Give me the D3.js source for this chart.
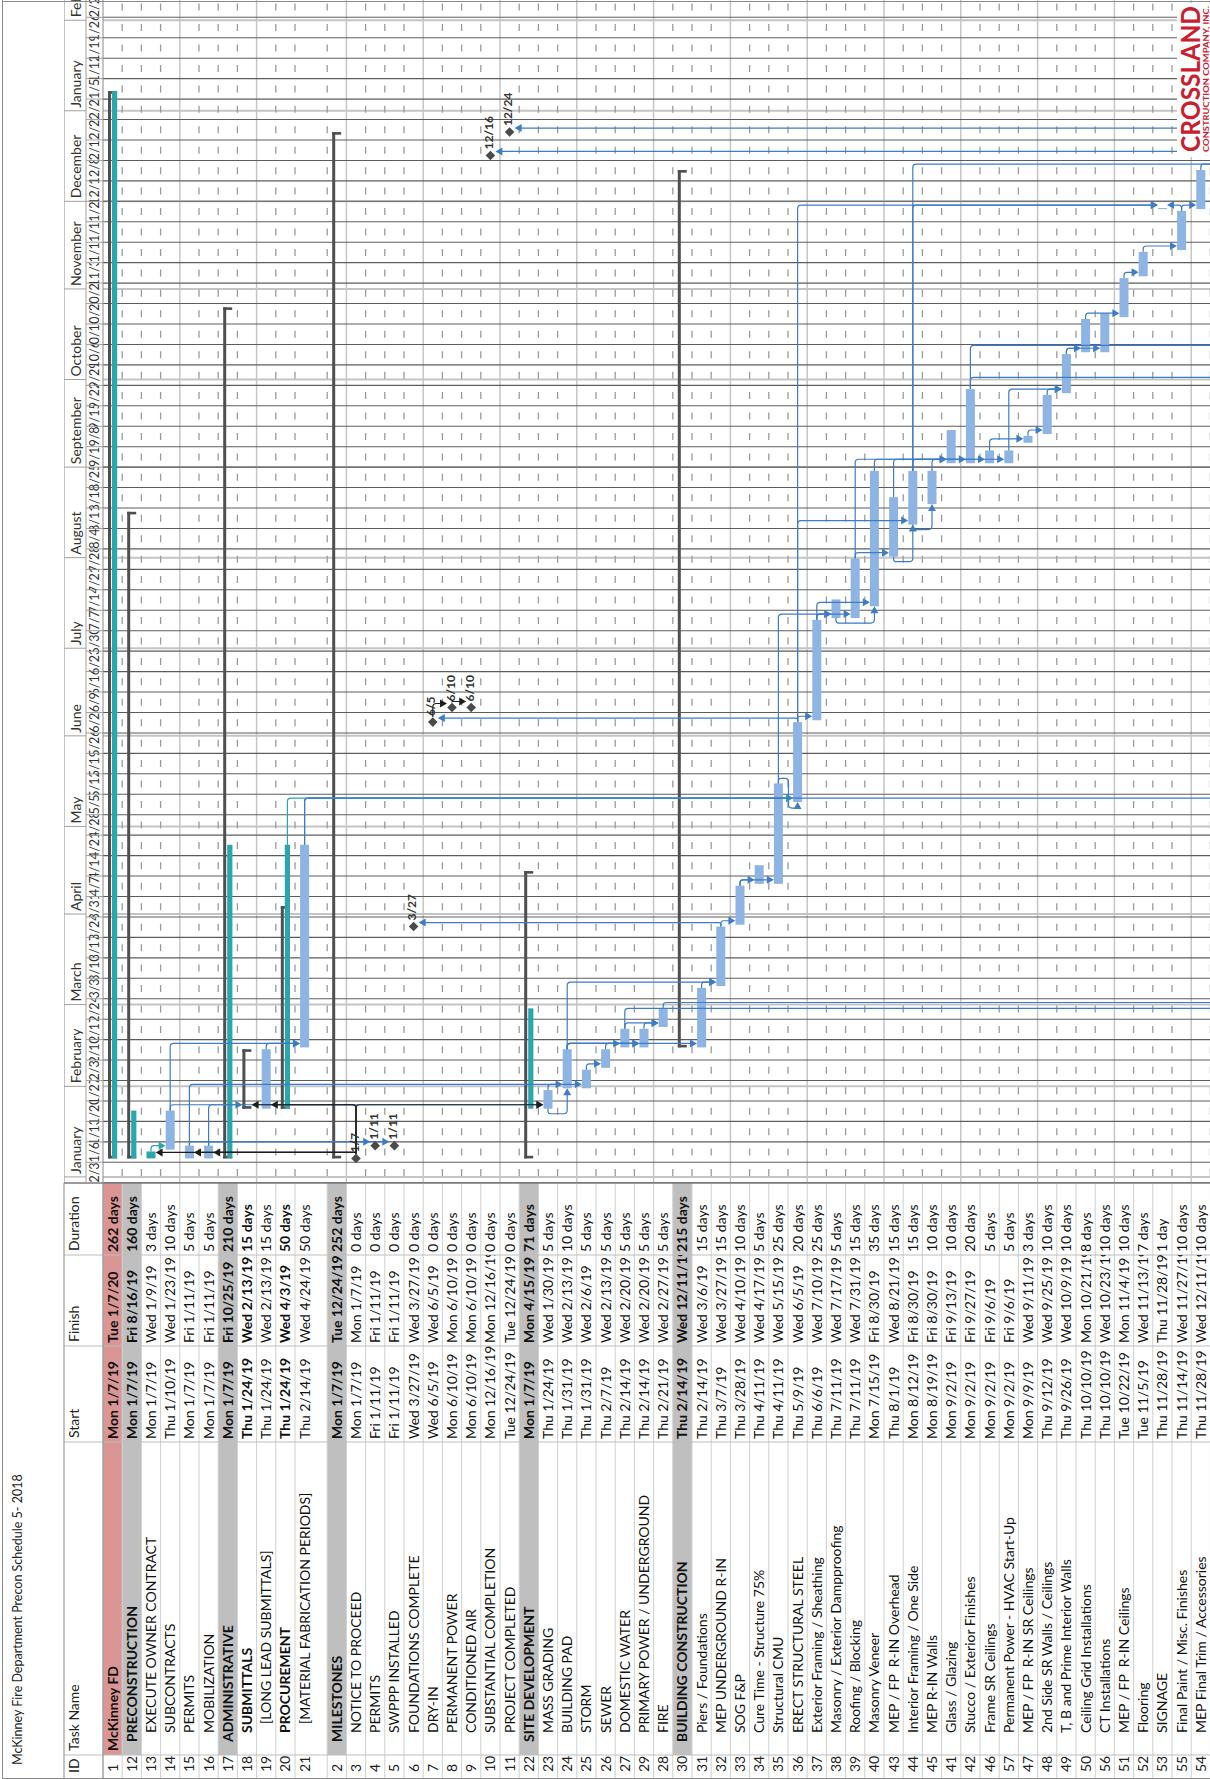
<!DOCTYPE html>
<html><head><meta charset="utf-8">
<script src="https://cdn.jsdelivr.net/npm/d3@7"></script>
<style>
html,body{margin:0;padding:0;background:#fff;}
svg{display:block;}
text{font-family:Lato,"Liberation Sans",sans-serif;}
</style></head><body>
<svg id="c" width="1210" height="1779"></svg>
<script>
// ---------------- DATA ----------------
const title = "McKinney Fire Department Precon Schedule 5- 2018";
const ids = [1,12,13,14,15,16,17,18,19,20,21,2,3,4,5,6,7,8,9,10,11,22,23,24,25,26,27,29,28,30,31,32,33,34,35,36,37,38,39,40,43,44,45,41,42,46,57,47,48,49,50,56,51,52,53,55,54];
const names = ["McKinney FD","PRECONSTRUCTION","EXECUTE OWNER CONTRACT","SUBCONTRACTS","PERMITS","MOBILIZATION","ADMINISTRATIVE","SUBMITTALS","[LONG LEAD SUBMITTALS]","PROCUREMENT","[MATERIAL FABRICATION PERIODS]","MILESTONES","NOTICE TO PROCEED","PERMITS","SWPPP INSTALLED","FOUNDATIONS COMPLETE","DRY-IN","PERMANENT POWER","CONDITIONED AIR","SUBSTANTIAL COMPLETION","PROJECT COMPLETED","SITE DEVELOPMENT","MASS GRADING","BUILDING PAD","STORM","SEWER","DOMESTIC WATER","PRIMARY POWER / UNDERGROUND","FIRE","BUILDING CONSTRUCTION","Piers / Foundations","MEP UNDERGROUND R-IN","SOG F&P","Cure Time - Structure 75%","Structural CMU","ERECT STRUCTURAL STEEL","Exterior Framing / Sheathing","Masonry / Exterior Dampproofing","Roofing / Blocking","Masonry Veneer","MEP / FP  R-IN Overhead","Interior Framing / One Side","MEP R-IN Walls","Glass / Glazing","Stucco / Exterior Finishes","Frame SR Ceilings","Permanent Power - HVAC Start-Up","MEP / FP  R-IN SR Ceilings","2nd Side SR Walls / Ceilings","T, B and Prime Interior Walls","Ceiling Grid Installations","CT Installations","MEP / FP  R-IN Ceilings","Flooring","SIGNAGE","Final Paint / Misc. Finishes","MEP Final Trim / Accessories"];
const starts = ["2019-01-07","2019-01-07","2019-01-07","2019-01-10","2019-01-07","2019-01-07","2019-01-07","2019-01-24","2019-01-24","2019-01-24","2019-02-14","2019-01-07","2019-01-07","2019-01-11","2019-01-11","2019-03-27","2019-06-05","2019-06-10","2019-06-10","2019-12-16","2019-12-24","2019-01-07","2019-01-24","2019-01-31","2019-01-31","2019-02-07","2019-02-14","2019-02-14","2019-02-21","2019-02-14","2019-02-14","2019-03-07","2019-03-28","2019-04-11","2019-04-11","2019-05-09","2019-06-06","2019-07-11","2019-07-11","2019-07-15","2019-08-01","2019-08-12","2019-08-19","2019-09-02","2019-09-02","2019-09-02","2019-09-02","2019-09-09","2019-09-12","2019-09-26","2019-10-10","2019-10-10","2019-10-22","2019-11-05","2019-11-28","2019-11-14","2019-11-28"];
const finishes = ["2020-01-07","2019-08-16","2019-01-09","2019-01-23","2019-01-11","2019-01-11","2019-10-25","2019-02-13","2019-02-13","2019-04-03","2019-04-24","2019-12-24","2019-01-07","2019-01-11","2019-01-11","2019-03-27","2019-06-05","2019-06-10","2019-06-10","2019-12-16","2019-12-24","2019-04-15","2019-01-30","2019-02-13","2019-02-06","2019-02-13","2019-02-20","2019-02-20","2019-02-27","2019-12-11","2019-03-06","2019-03-27","2019-04-10","2019-04-17","2019-05-15","2019-06-05","2019-07-10","2019-07-17","2019-07-31","2019-08-30","2019-08-21","2019-08-30","2019-08-30","2019-09-13","2019-09-27","2019-09-06","2019-09-06","2019-09-11","2019-09-25","2019-10-09","2019-10-21","2019-10-23","2019-11-04","2019-11-13","2019-11-28","2019-11-27","2019-12-11"];
const durations = ["262 days","160 days","3 days","10 days","5 days","5 days","210 days","15 days","15 days","50 days","50 days","252 days","0 days","0 days","0 days","0 days","0 days","0 days","0 days","0 days","0 days","71 days","5 days","10 days","5 days","5 days","5 days","5 days","5 days","215 days","15 days","15 days","10 days","5 days","25 days","20 days","25 days","5 days","15 days","35 days","15 days","15 days","10 days","10 days","20 days","5 days","5 days","3 days","10 days","10 days","8 days","10 days","10 days","7 days","1 day","10 days","10 days"];
// P=project, S=summary (grey band), s=sub-summary, T=task, D=done task, M=milestone
const kinds = ["P","S","D","T","T","T","S","s","T","s","T","S","M","M","M","M","M","M","M","M","M","S","T","T","T","T","T","T","T","S","T","T","T","T","T","T","T","T","T","T","T","T","T","T","T","T","T","T","T","T","T","T","T","T","T","T","T"];
const levels = [0,1,2,2,2,2,1,2,3,2,3,1,2,2,2,2,2,2,2,2,2,1,2,2,2,2,2,2,2,1,2,2,2,2,2,2,2,2,2,2,2,2,2,2,2,2,2,2,2,2,2,2,2,2,2,2,2];
// teal overlay bars on summary rows
const tealIds   = [1, 12, 17, 20, 22];
const tealFrom  = ["2019-01-07","2019-01-07","2019-01-07","2019-01-24","2019-01-24"];
const tealTo    = ["2020-01-07","2019-01-23","2019-04-24","2019-04-24","2019-02-27"];
// links (0 = task on a following page)
const linkPred = [13,3,3,3,15,16,14,14,15,16,3,3,3,19,23,23,25,24,24,26,27,29,24,24,31,32,32,33,33,21,20,35,36,36,7,8,36,36,35,37,37,37,38,39,43,44,39,40,43,44,45,46,57,47,48,49,49,50,51,52,55,55,44,44,54,42,42,27,28,0,0,21];
const linkSucc = [14,13,15,16,4,5,21,23,24,18,18,19,23,21,24,25,26,27,29,29,28,28,31,32,32,6,33,34,35,36,36,36,7,37,8,9,44,53,38,38,39,40,40,43,44,45,41,42,46,57,41,47,49,48,49,50,56,51,52,55,54,53,53,0,0,0,0,0,0,10,11,0];
const linkType = ["FS","FS","FS","FS","FS","FS","FS","FS","FS","FS","FS","FS","FS","FS","SS","FS","FS","FS","FS","FS","FS","FS","FS","FS","FS","FS","FS","FS","FS","FS","FS","FS","FS","FS","FS","FS","FS","FS","FS","FS","FS","FS","SS","FS","SS","SS","FS","FS","FS","FS","FS","FS","FS","FS","FS","FS","FS","FS","FS","FS","FS","FS","FS","FS","FS","FS","FS","FS","FS","FS","FS","FS"];
const linkColor = ["t","k","k","k","b","b","b","b","b","b","k","k","k","b","b","b","b","b","b","b","b","b","b","b","b","b","b","b","b","b","t","b","b","b","k","k","b","b","b","b","b","b","b","b","b","b","b","b","b","b","b","b","b","b","b","b","b","b","b","b","b","b","b","b","b","b","b","b","b","b","b","b"];
// dates for the off-page ends of links (succ start or pred finish)
const linkOffDate = {63:"2019-12-12",64:"2019-12-12",65:"2019-09-30",66:"2019-10-11",67:"2019-02-26",68:"2019-02-28",69:"2019-12-13",70:"2019-12-20",71:"2019-05-09"};
const monthNames = ["January","February","March","April","May","June","July","August","September","October","November","December"];

// ---------------- GEOMETRY ----------------
const W = 1210, H = 1779;
const utc = (s, h) => new Date(Date.UTC(+s.slice(0,4), +s.slice(5,7)-1, +s.slice(8,10), h||0));
const x = d3.scaleUtc().domain([utc("2019-01-06"), utc("2020-02-02")]).range([616.7, 1761.7]);
const U0 = x(utc("2018-12-30"));
const HDR_TOP = 64, TIER = 86, HDR_BOT = 103, PAGE_BOT = 1210;
const RH = 19.2, TALL = 10, TALL_EXTRA = 13;
const rowScale = d3.scaleLinear().domain([0, 1]).range([HDR_BOT, HDR_BOT + RH]);
const rowTop = i => rowScale(i) + (i > TALL ? TALL_EXTRA : 0);
const rowHt = i => RH + (i === TALL ? TALL_EXTRA : 0);
const rowC = i => rowTop(i) + RH / 2;
const cols = [0, 24, 337, 433, 524, 596];
const FS_T = 14;
const blue = "#8db4e2", linkBlue = "#3d7cc6", teal = "#2ba6ad", dark = "#4f4f4f";

const idx = id => ids.indexOf(id);
const isMs = i => kinds[i] === "M";
const msTime = i => ids[i] === 3 ? utc(starts[i], 8) : utc(finishes[i], 17);
const uStart = i => isMs(i) ? x(msTime(i)) : x(utc(starts[i], 8));
const uEnd = i => isMs(i) ? x(msTime(i)) : x(utc(finishes[i], 17));

const svg = d3.select("#c");
const defs = svg.append("defs");
const g = svg.append("g").attr("transform", `translate(0,${H}) rotate(-90)`);

function clip(id, u0, v0, u1, v1) {
  defs.append("clipPath").attr("id", id).attr("clipPathUnits", "userSpaceOnUse")
    .append("rect").attr("x", u0).attr("y", v0).attr("width", u1 - u0).attr("height", v1 - v0);
  return `url(#${id})`;
}

// ---------------- TABLE ----------------
const tbl = g.append("g");
ids.forEach((id, i) => {
  const k = kinds[i];
  if (k === "P" || k === "S") {
    tbl.append("rect").attr("x", cols[1]).attr("y", rowTop(i)).attr("width", cols[5] - cols[1]).attr("height", rowHt(i))
      .attr("fill", k === "P" ? "#da9694" : "#bfbfbf");
  }
});
for (let i = 0; i <= ids.length; i++) {
  const v = i < ids.length ? rowTop(i) : rowTop(ids.length - 1) + RH;
  tbl.append("line").attr("x1", 0).attr("x2", cols[5]).attr("y1", v).attr("y2", v)
    .attr("stroke", "#cfcfcf").attr("stroke-width", 1);
}
cols.forEach((c, j) => {
  tbl.append("line").attr("x1", c).attr("x2", c).attr("y1", HDR_TOP).attr("y2", PAGE_BOT)
    .attr("stroke", j === 5 ? "#7a7a7a" : "#bdbdbd").attr("stroke-width", j === 5 ? 1.3 : 1);
});
const headers = ["ID", "Task Name", "Start", "Finish", "Duration"];
headers.forEach((h, j) => {
  tbl.append("text").attr("x", cols[j] + (j === 0 ? 6 : 4)).attr("y", HDR_TOP + 15)
    .attr("font-size", FS_T).attr("fill", "#222").text(h);
});
const fmt = d3.utcFormat("%a %-m/%-d/%y");
const colClip = [1, 2, 3, 4].map(j => clip("cc" + j, cols[j], HDR_BOT, cols[j + 1], PAGE_BOT));
ids.forEach((id, i) => {
  const bold = (kinds[i] === "P" || kinds[i] === "S" || kinds[i] === "s");
  const base = (i === TALL ? rowTop(i) + 14.5 : rowC(i) + 5);
  const fw = bold ? 700 : 400;
  tbl.append("text").attr("x", 7).attr("y", base)
    .attr("font-size", FS_T).attr("fill", "#222").text(id);
  tbl.append("g").attr("clip-path", colClip[0]).append("text")
    .attr("x", cols[1] + 4 + levels[i] * 9).attr("y", base).attr("font-size", FS_T).attr("font-weight", fw)
    .attr("fill", "#111").attr("xml:space", "preserve").text(names[i]);
  tbl.append("g").attr("clip-path", colClip[1]).append("text")
    .attr("x", cols[2] + 3).attr("y", base).attr("font-size", FS_T).attr("font-weight", fw)
    .attr("fill", "#111").text(fmt(utc(starts[i])));
  tbl.append("g").attr("clip-path", colClip[2]).append("text")
    .attr("x", cols[3] + 3).attr("y", base).attr("font-size", FS_T).attr("font-weight", fw)
    .attr("fill", "#111").text(fmt(utc(finishes[i])));
  tbl.append("g").attr("clip-path", colClip[3]).append("text")
    .attr("x", cols[4] + 3).attr("y", base).attr("font-size", FS_T).attr("font-weight", fw)
    .attr("fill", "#111").text(durations[i]);
});
g.append("text").attr("x", 14).attr("y", 22).attr("font-size", 12.5).attr("fill", "#222").text(title);

// ---------------- GANTT GRID ----------------
const gc = g.append("g").attr("clip-path", clip("gclip", U0, HDR_TOP, H, PAGE_BOT + 20));
const weeks = d3.utcSunday.range(utc("2018-12-30"), utc("2020-02-10"));
const months = d3.utcMonth.range(utc("2018-12-01"), utc("2020-03-01"));
months.forEach(m => {
  gc.append("line").attr("x1", x(m)).attr("x2", x(m)).attr("y1", HDR_BOT).attr("y2", PAGE_BOT)
    .attr("stroke", "#c4c4c4").attr("stroke-width", 2);
});
const weekW = x(utc("2019-01-13")) - x(utc("2019-01-06"));
for (let i = 1; i <= ids.length; i++) {
  const v = rowTop(i);
  if (i % 4 === 0) {
    gc.append("line").attr("x1", U0).attr("x2", H).attr("y1", v).attr("y2", v)
      .attr("stroke", "#c6c6c6").attr("stroke-width", 1.5);
  } else {
    gc.append("line").attr("x1", U0).attr("x2", H).attr("y1", v).attr("y2", v)
      .attr("stroke", "#9a9a9a").attr("stroke-width", 1.3)
      .attr("stroke-dasharray", `7 ${weekW - 7}`).attr("stroke-dashoffset", weekW - 6.7);
  }
}
weeks.forEach(w => {
  gc.append("line").attr("x1", x(w)).attr("x2", x(w)).attr("y1", HDR_BOT).attr("y2", PAGE_BOT)
    .attr("stroke", "#5c5c5c").attr("stroke-width", 1.1);
});
gc.append("line").attr("x1", U0).attr("x2", H).attr("y1", TIER).attr("y2", TIER).attr("stroke", "#a0a0a0");
gc.append("line").attr("x1", U0).attr("x2", H).attr("y1", HDR_BOT).attr("y2", HDR_BOT).attr("stroke", "#8a8a8a");
gc.append("line").attr("x1", U0).attr("x2", H).attr("y1", HDR_TOP).attr("y2", HDR_TOP).attr("stroke", "#8a8a8a");
months.forEach((m, k) => {
  const m2 = d3.utcMonth.offset(m, 1);
  gc.append("line").attr("x1", x(m)).attr("x2", x(m)).attr("y1", HDR_TOP).attr("y2", TIER).attr("stroke", "#a0a0a0");
  gc.append("g").attr("clip-path", clip("mc" + k, x(m), HDR_TOP, x(m2), TIER)).append("text")
    .attr("x", x(m) + 3).attr("y", TIER - 5).attr("font-size", 14).attr("fill", "#333")
    .text(monthNames[m.getUTCMonth()]);
});
const wf = d3.utcFormat("%-m/%-d");
weeks.forEach((w, k) => {
  const w2 = d3.utcWeek.offset(w, 1);
  gc.append("line").attr("x1", x(w)).attr("x2", x(w)).attr("y1", TIER).attr("y2", HDR_BOT).attr("stroke", "#a0a0a0");
  gc.append("g").attr("clip-path", clip("wc" + k, x(w), TIER, x(w2), HDR_BOT)).append("text")
    .attr("x", (x(w) + x(w2)) / 2).attr("y", HDR_BOT - 4).attr("text-anchor", "middle")
    .attr("font-size", 12.5).attr("fill", "#333").text(wf(w));
});

// ---------------- BARS ----------------
const bars = gc.append("g");
ids.forEach((id, i) => {
  const c = rowC(i), k = kinds[i];
  if (k === "T" || k === "D") {
    bars.append("rect").attr("x", uStart(i)).attr("y", c - 4.5).attr("width", uEnd(i) - uStart(i)).attr("height", 9)
      .attr("fill", k === "D" ? teal : blue);
  } else if (k === "P" || k === "S" || k === "s") {
    const a = uStart(i), b = uEnd(i);
    bars.append("rect").attr("x", a).attr("y", c - 4.6).attr("width", b - a).attr("height", 3).attr("fill", dark);
    bars.append("rect").attr("x", a).attr("y", c - 4.6).attr("width", 2.6).attr("height", 9).attr("fill", dark);
    bars.append("rect").attr("x", b - 2.6).attr("y", c - 4.6).attr("width", 2.6).attr("height", 9).attr("fill", dark);
  }
});
tealIds.forEach((id, k) => {
  const i = idx(id), c = rowC(i);
  const a = x(utc(tealFrom[k], 8)), b = x(utc(tealTo[k], 17));
  bars.append("rect").attr("x", a).attr("y", c - 0.6).attr("width", b - a).attr("height", 5.2).attr("fill", teal);
});

// ---------------- LINKS ----------------
function rounded(pts, r) {
  let d = `M${pts[0][0]},${pts[0][1]}`;
  for (let j = 1; j < pts.length - 1; j++) {
    const [x0, y0] = pts[j - 1], [x1, y1] = pts[j], [x2, y2] = pts[j + 1];
    const l1 = Math.hypot(x1 - x0, y1 - y0), l2 = Math.hypot(x2 - x1, y2 - y1);
    const rr = Math.min(r, l1 / 2, l2 / 2);
    if (rr < 0.05) { d += `L${x1},${y1}`; continue; }
    const ax = x1 - (x1 - x0) / l1 * rr, ay = y1 - (y1 - y0) / l1 * rr;
    const bx = x1 + (x2 - x1) / l2 * rr, by = y1 + (y2 - y1) / l2 * rr;
    d += `L${ax},${ay}Q${x1},${y1} ${bx},${by}`;
  }
  const L = pts[pts.length - 1];
  return d + `L${L[0]},${L[1]}`;
}
function arrowPts(ax, ay, dir) {
  const l = 7, w = 4;
  if (dir === "down") return [[ax - w, ay - l], [ax + w, ay - l], [ax, ay]];
  if (dir === "up") return [[ax - w, ay + l], [ax + w, ay + l], [ax, ay]];
  return [[ax - l, ay - w], [ax - l, ay + w], [ax, ay]];
}
const OFF_V = rowC(ids.length) + 12;
const lk = gc.append("g").attr("fill", "none");
linkPred.forEach((pid, n) => {
  const sid = linkSucc[n];
  const col = linkColor[n] === "k" ? "#1e1e1e" : linkColor[n] === "t" ? teal : linkBlue;
  let p, s;
  if (pid === 0) {
    const u = x(utc(linkOffDate[n], 17));
    p = {u1: u, us: u, v: OFF_V, ms: false};
  } else {
    const i = idx(pid);
    p = {u1: uEnd(i), us: uStart(i), v: rowC(i), ms: isMs(i)};
    if (linkColor[n] === "t" && kinds[i] === "s") { p.u1 = x(utc("2019-04-24", 17)); p.v += 2; }
  }
  if (sid === 0) {
    const u = x(utc(linkOffDate[n], 8));
    s = {u2: u, v: OFF_V, ms: false};
  } else {
    const i = idx(sid);
    s = {u2: uStart(i), v: rowC(i), ms: isMs(i)};
  }
  const down = s.v > p.v;
  const half = s.ms ? 5 : 4.6;
  let pts, arr;
  if (linkType[n] === "SS") {
    const xa = Math.min(p.us, s.u2) - 5;
    pts = [[p.us, p.v], [xa, p.v], [xa, s.v], [s.u2 - 6, s.v]];
    arr = arrowPts(s.u2, s.v, "right");
  } else {
    const x0 = p.u1 + (p.ms ? 5 : 0);
    if (s.u2 >= p.u1 - 0.1) {
      const xv = Math.max(s.u2 + 4, x0 + 1);
      const yt = down ? s.v - half : s.v + half;
      pts = [[x0, p.v], [xv, p.v], [xv, down ? yt - 6 : yt + 6]];
      arr = arrowPts(xv, yt, down ? "down" : "up");
    } else {
      const xr = x0 + 5, yb = p.v + (down ? 1 : -1) * (RH / 2 + 0.5), xl = s.u2 - 6;
      pts = [[x0, p.v], [xr, p.v], [xr, yb], [xl, yb], [xl, s.v], [s.u2 - 6, s.v]];
      arr = arrowPts(s.u2, s.v, "right");
    }
  }
  lk.append("path").attr("d", rounded(pts, 3.5)).attr("stroke", col).attr("stroke-width", 1.2);
  lk.append("path").attr("d", "M" + arr.map(q => q.join(",")).join("L") + "Z").attr("fill", col).attr("stroke", "none");
});

// ---------------- MILESTONES ----------------
const msf = d3.utcFormat("%-m/%-d");
ids.forEach((id, i) => {
  if (!isMs(i)) return;
  const u = x(msTime(i)), c = rowC(i), r = 4.8;
  gc.append("path").attr("d", `M${u - r},${c}L${u},${c - r}L${u + r},${c}L${u},${c + r}Z`).attr("fill", "#4a4a4a");
  gc.append("text").attr("x", u + 6).attr("y", c + 2.5).attr("font-size", 12).attr("font-weight", 700)
    .attr("fill", "#333").text(msf(msTime(i)));
});

// ---------------- FRAME & LOGO ----------------
g.append("line").attr("x1", 0).attr("x2", H).attr("y1", 2.5).attr("y2", 2.5).attr("stroke", "#8a8a8a");
g.append("line").attr("x1", 0.5).attr("x2", 0.5).attr("y1", 2.5).attr("y2", PAGE_BOT).attr("stroke", "#8a8a8a");
g.append("line").attr("x1", H - 1.5).attr("x2", H - 1.5).attr("y1", 2.5).attr("y2", PAGE_BOT).attr("stroke", "#8a8a8a");
g.append("line").attr("x1", 0).attr("x2", U0).attr("y1", HDR_TOP).attr("y2", HDR_TOP).attr("stroke", "#8a8a8a");
g.append("line").attr("x1", 0).attr("x2", U0).attr("y1", HDR_BOT).attr("y2", HDR_BOT).attr("stroke", "#8a8a8a");
const logo = g.append("g");
logo.append("rect").attr("x", 1622).attr("y", 1177).attr("width", 154).attr("height", 33).attr("fill", "#fff");
logo.append("text").attr("x", 1627).attr("y", 1200).attr("font-family", "'DejaVu Sans Condensed','DejaVu Sans',sans-serif")
  .attr("font-weight", 700).attr("font-size", 27).attr("fill", "#c8202f")
  .attr("textLength", 146).attr("lengthAdjust", "spacingAndGlyphs").text("CROSSLAND");
logo.append("text").attr("x", 1627).attr("y", 1209).attr("font-family", "'DejaVu Sans Condensed','DejaVu Sans',sans-serif")
  .attr("font-weight", 700).attr("font-size", 8).attr("fill", "#c8202f")
  .attr("textLength", 146).attr("lengthAdjust", "spacingAndGlyphs").text("CONSTRUCTION COMPANY, INC.");
</script>
</body></html>
